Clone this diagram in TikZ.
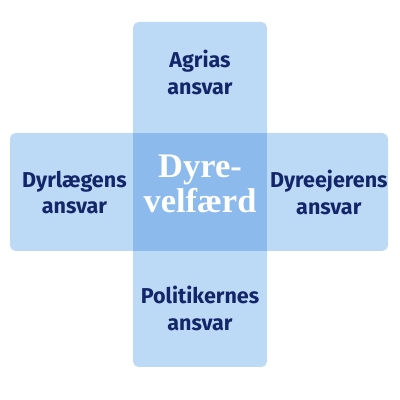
\documentclass[tikz,border=0pt]{standalone}
\usepackage{fontspec}
\setsansfont{Fira Sans}
\setmainfont{Liberation Serif}
\definecolor{armblue}{RGB}{188,217,246}
\definecolor{coreblue}{RGB}{140,186,237}
\definecolor{inkblue}{RGB}{18,38,105}
\tikzset{
  arm/.style={fill=armblue,rounded corners=4pt},
  duty/.style={text=inkblue,font=\sffamily\bfseries\fontsize{15.3}{19}\selectfont,align=center,inner sep=0pt},
  core/.style={text=white,font=\rmfamily\bfseries\fontsize{24.5}{25}\selectfont,align=center,inner sep=0pt}
}
\begin{document}
\begin{tikzpicture}
\useasboundingbox (0,0) rectangle (10,10);
\fill[arm] (3.325,0.825) rectangle (6.675,9.45);
\fill[arm] (0.25,3.725) rectangle (9.7,6.675);
\fill[coreblue] (3.325,3.725) rectangle (6.675,6.675);
\node[core] (welfare) at (5,5.4) {Dyre-\\velfærd};
\node[duty] (agria) at (5,8.19) {Agrias\\ansvar};
\node[duty] (vet) at (1.86,5.19) {Dyrlægens\\ansvar};
\node[duty] (owner) at (8.22,5.19) {Dyreejerens\\ansvar};
\node[duty] (politics) at (5,2.29) {Politikernes\\ansvar};
\end{tikzpicture}
\end{document}
